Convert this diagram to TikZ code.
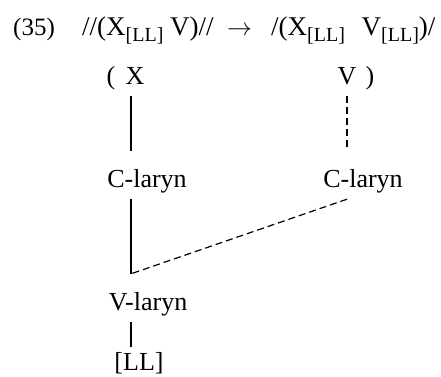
\documentclass[tikz,border=0pt]{standalone}
\usepackage{fontspec}
\setmainfont{Liberation Serif}
\usepackage{tikz}
\usetikzlibrary{positioning}
\newcommand{\lsub}[1]{\raisebox{-6pt}{\fontsize{20}{20}\selectfont #1}}

\begin{document}
\begin{tikzpicture}[x=1pt, y=-1pt, font=\fontsize{26}{30}\selectfont,
    head/.style={inner sep=0pt, anchor=base west, font=\fontsize{27}{32}\selectfont},
    tier/.style={inner sep=0pt, text height=36pt, text depth=12pt, anchor=base},
    assoc/.style={line width=1.2pt},
    delink/.style={line width=1.2pt, dash pattern=on 7pt off 4pt}]
    \useasboundingbox (0,0) rectangle (441,376);
    \node[head, font=\fontsize{25}{30}\selectfont] (num) at (13,35) {(35)};
    \node[head] (lhs) at (82,35) {//(X\lsub{[LL]} V)//};
    \node[head] (arr) at (227,35) {$\rightarrow$};
    \node[head] (rhs) at (271,35) {/(X\lsub{[LL]}\hspace{10pt} V\lsub{[LL]})/};

    \node[tier] (lpar) at (111,84) {(};
    \node[tier] (X) at (135,84) {X};
    \node[tier] (V) at (347,84) {V};
    \node[tier] (rpar) at (370,84) {)};
    \node[tier] (clA) at (147,187) {C-laryn};
    \node[tier] (clB) at (363,187) {C-laryn};
    \node[tier] (vl) at (148,310) {V-laryn};
    \node[tier, text height=23pt] (LL) at (139,370) {[LL]};

    \coordinate (stemL) at (131,0);
    \coordinate (stemR) at (347,0);
    \draw[assoc] (X.south -| stemL) -- (clA.north -| stemL);
    \draw[delink] (V.south -| stemR) -- (clB.north -| stemR);
    \draw[assoc] (clA.south -| stemL) -- (vl.north -| stemL);
    \draw[delink] (clB.south -| stemR) -- (vl.north -| stemL);
    \draw[assoc] (vl.south -| stemL) -- (LL.north -| stemL);
\end{tikzpicture}
\end{document}
